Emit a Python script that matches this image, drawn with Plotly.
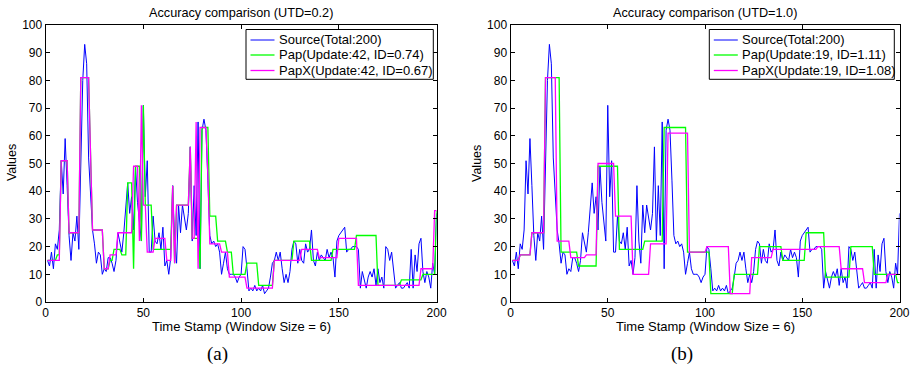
import numpy as np
import plotly.graph_objects as go

# ---------------- data ----------------
time_stamps = list(range(1, 201))

source = [
    15, 13, 18, 12, 21, 19, 26, 51, 39, 59,
    42, 24, 15, 25, 22, 31, 19, 52, 80, 93,
    86, 52, 38, 26, 21, 14, 18, 17, 10, 12,
    11, 16, 16, 14, 11, 15, 25, 21, 18, 25,
    33, 43, 32, 38, 26, 49, 36, 28, 22, 71,
    38, 51, 18, 18, 31, 22, 21, 25, 19, 27,
    13, 15, 10, 16, 42, 22, 14, 35, 25, 35,
    31, 26, 32, 56, 22, 42, 24, 65, 12, 62,
    66, 62, 44, 24, 21, 22, 20, 21, 18, 10,
    14, 18, 12, 10, 10, 10, 9, 7, 9, 10,
    20, 19, 12, 4, 5, 4, 6, 4, 5, 4,
    6, 3, 4, 5, 9, 14, 15, 18, 15, 18,
    12, 7, 10, 7, 11, 19, 22, 21, 14, 19,
    15, 14, 21, 18, 19, 26, 15, 13, 18, 15,
    17, 16, 15, 19, 16, 18, 16, 9, 22, 24,
    25, 26, 27, 18, 19, 19, 20, 20, 20, 19,
    5, 11, 8, 5, 9, 11, 9, 12, 6, 12,
    7, 9, 5, 20, 19, 15, 18, 12, 5, 6,
    7, 5, 5, 6, 7, 5, 19, 5, 17, 11,
    21, 23, 11, 7, 11, 9, 5, 14, 10, 32,
]

# step series: time stamp of each update and the value held from then on
pap_a_t = [1, 6, 8, 12, 18, 23, 24, 30, 33, 35, 39, 42, 45, 46, 49, 50, 51, 55, 65, 66,
           67, 74, 75, 79, 80, 84, 88, 93, 96, 103, 109, 117, 127, 136, 147, 159, 170, 182, 193, 200]
pap_a_v = [15, 17, 51, 25, 81, 53, 26, 12, 15, 19, 17, 43, 12, 49, 22, 71, 35, 19, 42, 14,
           35, 56, 23, 12, 63, 31, 22, 18, 10, 14, 6, 15, 22, 15, 19, 24, 6, 8, 10, 33]

papx_a_t = [1, 8, 12, 18, 23, 24, 30, 33, 37, 45, 48, 49, 50, 52, 56, 62, 65, 66, 67, 74,
            75, 77, 78, 79, 83, 84, 90, 94, 103, 117, 131, 140, 150, 160, 192, 199]
papx_a_v = [15, 51, 25, 81, 53, 26, 12, 17, 25, 49, 22, 71, 35, 18, 23, 15, 42, 14, 35, 56,
            23, 65, 12, 63, 46, 21, 18, 9, 5, 15, 19, 16, 23, 6, 12, 33]

pap_b_t = [1, 5, 11, 18, 26, 35, 45, 56, 69, 79, 91, 103, 115, 128, 140, 152, 162, 175, 187, 199]
pap_b_v = [15, 17, 25, 81, 18, 13, 49, 19, 22, 63, 18, 3, 10, 20, 15, 25, 9, 20, 10, 7]

papx_b_t = [1, 5, 11, 18, 24, 31, 39, 45, 54, 63, 72, 81, 92, 101, 113, 124, 135, 158, 170, 182, 194]
papx_b_v = [15, 17, 25, 81, 22, 16, 17, 50, 31, 10, 21, 61, 18, 20, 3, 16, 19, 20, 12, 7, 10]

titles = ["Accuracy comparison (UTD=0.2)", "Accuracy comparison (UTD=1.0)"]
names_a = ["Source(Total:200)", "Pap(Update:42, ID=0.74)", "PapX(Update:42, ID=0.67)"]
names_b = ["Source(Total:200)", "Pap(Update:19, ID=1.11)", "PapX(Update:19, ID=1.08)"]
x_title = "Time Stamp (Window Size = 6)"
y_title = "Values"
x_ticks = [0, 50, 100, 150, 200]
y_ticks = list(range(0, 101, 10))
captions = ["(a)", "(b)"]


def hold(change_t, change_v):
    ts = np.array(time_stamps)
    idx = np.searchsorted(np.array(change_t), ts, side="right") - 1
    return np.array(change_v)[idx]


# ---------------- figure ----------------
W, H = 915, 373
FONT = "Liberation Sans, Arial, Helvetica, sans-serif"
SERIF = "Liberation Serif, DejaVu Serif, serif"
COLORS = ["#0000ff", "#00ff00", "#ff00ff"]
WIDTHS = [1, 1.3, 1.3]


def px(x):  # pixel -> paper x
    return x / W


def py(y):  # pixel (from top) -> paper y
    return (H - y) / H


fig = go.Figure()

panels = [
    ("x", "y", names_a, pap_a_t, pap_a_v, papx_a_t, papx_a_v),
    ("x2", "y2", names_b, pap_b_t, pap_b_v, papx_b_t, papx_b_v),
]
for xa, ya, names, pt, pv, qt, qv in panels:
    series = [source, hold(pt, pv), hold(qt, qv)]
    for k in range(3):
        fig.add_trace(go.Scatter(x=time_stamps, y=series[k], mode="lines", name=names[k],
                                 line=dict(color=COLORS[k], width=WIDTHS[k]),
                                 xaxis=xa, yaxis=ya, showlegend=False))

# pixel geometry
xl = [(45.6, 436.6), (510.5, 899.5)]
y_bot, y_top = 302, 25

axis_common = dict(showline=True, linecolor="black", linewidth=1, mirror="allticks",
                   ticks="inside", ticklen=4, tickcolor="black", showgrid=False,
                   zeroline=False, automargin=False,
                   tickfont=dict(family=FONT, size=12, color="black"))

fig.update_layout(
    template="none",
    width=W, height=H, margin=dict(l=0, r=0, t=0, b=0, autoexpand=False),
    paper_bgcolor="white", plot_bgcolor="white",
    font=dict(family=FONT, size=12, color="black"),
    showlegend=False,
    xaxis=dict(domain=[px(xl[0][0]), px(xl[0][1])], range=[0, 200], tickvals=x_ticks,
               anchor="y", **axis_common),
    yaxis=dict(domain=[py(y_bot), py(y_top)], range=[0, 100], tickvals=y_ticks,
               anchor="x", **axis_common),
    xaxis2=dict(domain=[px(xl[1][0]), px(xl[1][1])], range=[0, 200], tickvals=x_ticks,
                anchor="y2", **axis_common),
    yaxis2=dict(domain=[py(y_bot), py(y_top)], range=[0, 100], tickvals=y_ticks,
                anchor="x2", **axis_common),
)

ann = []
shapes = []


def text(t, x, y, size=12, family=FONT, xanchor="center", angle=0):
    ann.append(dict(text=t, x=px(x), y=py(y), xref="paper", yref="paper", showarrow=False,
                    xanchor=xanchor, yanchor="middle", textangle=angle,
                    font=dict(family=family, size=size, color="black")))


for i in range(2):
    cx = (xl[i][0] + xl[i][1]) / 2
    text(titles[i], cx, 12.5, size=12.7)
    text(x_title, cx, 326, size=13)
    text(y_title, xl[i][0] - 33.5, 163, size=12.5, angle=-90)
text(captions[0], 217, 354, size=19, family=SERIF)
text(captions[1], 682, 354, size=19, family=SERIF)

# legends (box, line samples, labels)
legend_boxes = [(246, 433.3), (709.3, 894.3)]
legend_names = [names_a, names_b]
rows = [40, 55, 70.5]
for i in range(2):
    x0, x1 = legend_boxes[i]
    shapes.append(dict(type="rect", xref="paper", yref="paper", x0=px(x0), x1=px(x1),
                       y0=py(79.3), y1=py(29.5), line=dict(color="black", width=1),
                       fillcolor="white", layer="above"))
    for k in range(3):
        shapes.append(dict(type="line", xref="paper", yref="paper",
                           x0=px(x0 + 4.5), x1=px(x0 + 28.5), y0=py(rows[k]), y1=py(rows[k]),
                           line=dict(color=COLORS[k], width=WIDTHS[k]), layer="above"))
        text(legend_names[i][k], x0 + 30.5, rows[k], size=13, xanchor="left")

fig.update_layout(annotations=ann, shapes=shapes)

# the page body's default 8px margin would push the 915x373 figure partly out of the window
fig.write_html("out.html", config={"displayModeBar": False},
               post_script="document.body.style.margin='0px';")
